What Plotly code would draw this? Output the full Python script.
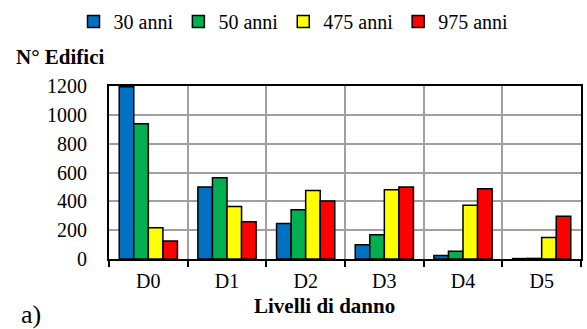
import plotly.graph_objects as go

categories = ["D0", "D1", "D2", "D3", "D4", "D5"]
series_names = ["30 anni", "50 anni", "475 anni", "975 anni"]
v30 = [1195, 499, 247, 99, 25, 3]
v50 = [938, 564, 342, 169, 53, 4]
v475 = [217, 365, 476, 481, 372, 150]
v975 = [125, 259, 402, 499, 488, 296]
y_ticks = [0, 200, 400, 600, 800, 1000, 1200]

colors = ["#0070C0", "#00B050", "#FFFF00", "#FF0000"]
W, H = 587, 329
ML, MR, MT, MB = 109, 6, 86, 70
PW, PH = W - ML - MR, H - MT - MB
FONT = "Liberation Serif, serif"

def px_x(px):
    return (px - ML) / PW

def px_y(py):
    return (H - MB - py) / PH

fig = go.Figure()
for name, vals, c in zip(series_names, [v30, v50, v475, v975], colors):
    fig.add_trace(go.Bar(x=categories, y=vals, name=name,
                         marker=dict(color=c, line=dict(color="black", width=1.5))))

fig.update_layout(
    width=W, height=H,
    margin=dict(l=ML, r=MR, t=MT, b=MB, autoexpand=False),
    paper_bgcolor="white", plot_bgcolor="white",
    barmode="group", bargap=0.26, bargroupgap=0,
    font=dict(family=FONT, size=20, color="black"),
    showlegend=True,
    legend=dict(orientation="h", xref="container", yref="container",
                x=0.5, xanchor="center", y=1 - 21.5 / H, yanchor="middle",
                font=dict(size=20, family="Times New Roman, Liberation Serif, serif",
                          color="black"),
                traceorder="normal", bgcolor="rgba(0,0,0,0)"),
    xaxis=dict(type="category", tickson="boundaries", ticks="outside", ticklen=6,
               tickcolor="black", tickwidth=1.5, showgrid=True, gridcolor="#A0A0A0",
               gridwidth=1.5, showline=True, linecolor="black", linewidth=2,
               mirror=True, tickfont=dict(size=20, family=FONT), ticklabelstandoff=3),
    yaxis=dict(range=[0, 1200], tickvals=y_ticks, showgrid=True, gridcolor="#A0A0A0",
               gridwidth=1.5, showline=True, linecolor="black", linewidth=2,
               mirror=True, ticks="", tickfont=dict(size=20, family=FONT),
               ticklabelstandoff=16, zeroline=False),
)

fig.add_annotation(text="<b>N° Edifici</b>", xref="paper", yref="paper",
                   x=px_x(14), y=px_y(57.5), xanchor="left", yanchor="middle",
                   showarrow=False, font=dict(size=21, family=FONT))
fig.add_annotation(text="<b>Livelli di danno</b>", xref="paper", yref="paper",
                   x=px_x(324), y=px_y(306), xanchor="center", yanchor="middle",
                   showarrow=False, font=dict(size=21, family=FONT))
fig.add_annotation(text="a)", xref="paper", yref="paper",
                   x=px_x(19), y=px_y(314), xanchor="left", yanchor="middle",
                   showarrow=False, font=dict(size=26, family=FONT))

fig.write_html("out.html", config={"displayModeBar": False},
               post_script=("document.body.style.margin='0';"
                            "document.body.style.overflow='hidden';"
                            "document.querySelectorAll('.legendtext').forEach(function(t){"
                            "t.style.fontFamily='Liberation Serif, serif';});"))
